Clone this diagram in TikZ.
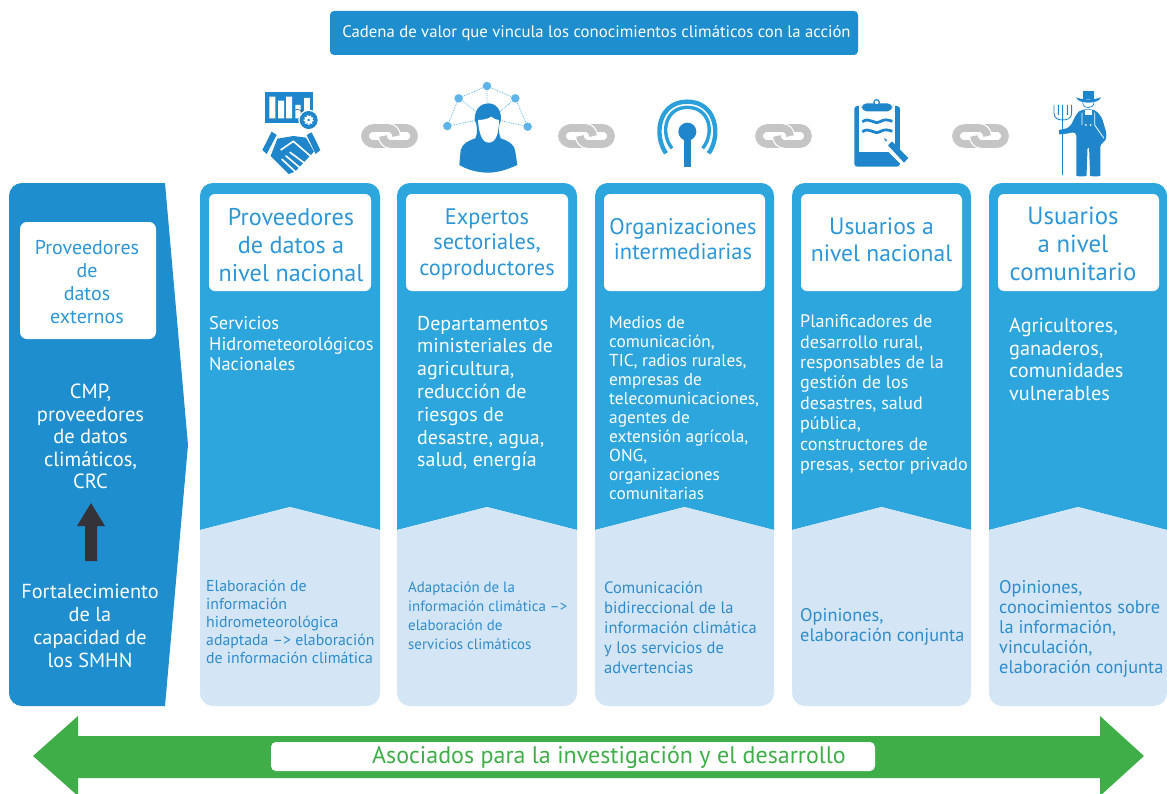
\documentclass[tikz,border=0pt]{standalone}
\usepackage{fontspec}
\setmainfont{PT Sans}
\definecolor{dkblue}{HTML}{1F8ECF}
\definecolor{colblue}{HTML}{2DA5DD}
\definecolor{ltblue}{HTML}{D4E5F6}
\definecolor{ltxt}{HTML}{2E8CCB}
\definecolor{hdtxt}{HTML}{2C96D6}
\definecolor{iconblue}{HTML}{1F86CB}
\definecolor{netblue}{HTML}{5FB3E6}
\definecolor{linkgray}{HTML}{C4C5C4}
\definecolor{dkarrow}{HTML}{333339}
\definecolor{arrgreen}{HTML}{3FAE49}
\newcommand\fz[2]{\fontsize{#1bp}{#2bp}\selectfont}
\newcommand\colpanel[2]{%
  \pgfmathsetmacro\xm{(#1+#2)/2}
  \fill[colblue] (#1,530) [rounded corners=13] -- (#1,183) -- (#2,183) [sharp corners] -- (#2,530) -- (\xm,507) -- cycle;
  \fill[ltblue] (#1,530) -- (\xm,507) -- (#2,530) [rounded corners=13] -- (#2,706) -- (#1,706) [sharp corners] -- cycle;
}
\tikzset{
  x=1bp,y=-1bp,
  whitebox/.style={fill=white,rounded corners=6},
  headtxt/.style={text=hdtxt,align=center,inner sep=0},
  bodytxt/.style={text=white,align=left,inner sep=0,anchor=west},
  sidetxt/.style={text=white,align=center,inner sep=0},
  lowtxt/.style={text=ltxt,align=left,inner sep=0,anchor=west},
  linkstroke/.style={draw=linkgray,line width=7.6bp},
  linkhalo/.style={draw=white,line width=10bp},
  netline/.style={draw=netblue,line width=0.8bp,densely dotted},
  netdot/.style={fill=netblue,circle,inner sep=0,minimum size=8.5bp},
}
\newcommand\chain[1]{%
  \begin{scope}[shift={(#1,136)}]
    \draw[linkstroke] (-3,8) -- (-15.5,8) .. controls (-19.9,8) and (-24,4.4) .. (-24,0) .. controls (-24,-4.4) and (-19.9,-8) .. (-15.5,-8) -- (-1,-8) .. controls (3.4,-8) and (7,-4.4) .. (7,0);
    \draw[linkhalo] (-6,0) .. controls (-6,4.4) and (-2.4,8) .. (2,8);
    \draw[linkstroke] (-6,0) .. controls (-6,4.4) and (-2.4,8) .. (2,8) -- (17,8) .. controls (21.4,8) and (25,4.4) .. (25,0) .. controls (25,-4.4) and (21.4,-8) .. (17,-8) -- (4,-8);
    \draw[linkhalo] (-1,-8) .. controls (3.4,-8) and (7,-4.4) .. (7,0);
    \draw[linkstroke] (-3,-8) -- (-1,-8) .. controls (3.4,-8) and (7,-4.4) .. (7,0);
  \end{scope}
}
\begin{document}
\begin{tikzpicture}
\useasboundingbox (0,0) rectangle (1167,794);
% title
\node[fill=dkblue,rounded corners=4,minimum width=528bp,minimum height=44bp,inner sep=0,text=white,font=\fz{16.7}{20}] (title) at (594,33) {\hspace*{5bp}Cadena de valor que vincula los conocimientos climáticos con la acción};
% left panel
\fill[dkblue] (165,706) [rounded corners=13] -- (9,706) -- (9,183) [sharp corners] -- (165,183) -- (188,445) -- cycle;
\fill[white,rounded corners=7] (20,222) rectangle (156,339);
\node[headtxt,font=\fz{20}{23}] (ext) at (87,282.5) {Proveedores\\de\\datos\\externos};
\node[sidetxt,font=\fz{20.5}{22.6}] (cmp) at (90.5,436.5) {CMP,\\proveedores\\de datos\\climáticos,\\CRC};
\fill[dkarrow] (91,503) -- (105,526) -- (97,526) -- (97,561) -- (85,561) -- (85,526) -- (77,526) -- cycle;
\node[sidetxt,font=\fz{20.3}{23}] (fort) at (90,626) {Fortalecimiento\\de la\\capacidad de\\los SMHN};
% columns
\colpanel{200}{380}
\colpanel{397}{577}
\colpanel{595}{774}
\colpanel{792}{971}
\colpanel{989}{1167}
\fill[whitebox] (209,194) rectangle (371,291);
\fill[whitebox] (406,194) rectangle (568,291);
\fill[whitebox] (604,194) rectangle (765,291);
\fill[whitebox] (801,194) rectangle (962,291);
\fill[whitebox] (998,194) rectangle (1159,291);
\node[headtxt,font=\fz{24.2}{28}] (h1) at (291,245) {Proveedores\\de datos a\\nivel nacional};
\node[headtxt,font=\fz{22.4}{25.5}] (h2) at (487,244) {Expertos\\sectoriales,\\coproductores};
\node[headtxt,font=\fz{22.5}{25.5}] (h3) at (683,239) {Organizaciones\\intermediarias};
\node[headtxt,font=\fz{23.6}{27}] (h4) at (881.5,240) {Usuarios a\\nivel nacional};
\node[headtxt,font=\fz{24.8}{28}] (h5) at (1073,244) {Usuarios\\a nivel\\comunitario};
\node[bodytxt,font=\fz{18.4}{20.5}] (b1) at (209,344) {Servicios\\Hidrometeorológicos\\Nacionales};
\node[bodytxt,font=\fz{20}{22.8}] (b2) at (417,393.5) {Departamentos\\ministeriales de\\agricultura,\\reducción de\\riesgos de\\desastre, agua,\\salud, energía};
\node[bodytxt,font=\fz{17.3}{19.1}] (b3) at (609,408) {Medios de\\comunicación,\\TIC, radios rurales,\\empresas de\\telecomunicaciones,\\agentes de\\extensión agrícola,\\ONG,\\organizaciones\\comunitarias};
\node[bodytxt,font=\fz{18.1}{20.4}] (b4) at (800,394.5) {Planificadores de\\desarrollo rural,\\responsables de la\\gestión de los\\desastres, salud\\pública,\\constructores de\\presas, sector privado};
\node[bodytxt,font=\fz{20.3}{22.4}] (b5) at (1009,359.5) {Agricultores,\\ganaderos,\\comunidades\\vulnerables};
\node[lowtxt,font=\fz{15.8}{17.8}] (l1) at (206,622) {Elaboración de\\información\\hidrometeorológica\\adaptada –> elaboración\\de información climática};
\node[lowtxt,font=\fz{14.9}{19}] (l2) at (408,615.5) {Adaptación de la\\información climática –>\\elaboración de\\servicios climáticos};
\node[lowtxt,font=\fz{16.5}{20}] (l3) at (604,628) {Comunicación\\bidireccional de la\\información climática\\y los servicios de\\advertencias};
\node[lowtxt,font=\fz{18.3}{20}] (l4) at (800,627) {Opiniones,\\elaboración conjunta};
\node[lowtxt,font=\fz{18.3}{20}] (l5) at (999,628.5) {Opiniones,\\conocimientos sobre\\la información,\\vinculación,\\elaboración conjunta};
% green arrow
\fill[arrgreen] (33,756) -- (78,716) -- (78,736) -- (1100,736) -- (1100,716) -- (1144,756) -- (1100,796) -- (1100,778) -- (78,778) -- (78,796) -- cycle;
\fill[white,rounded corners=5] (271,742) rectangle (875,771);
\node[inner sep=0,text=arrgreen,font=\fz{24}{28}] (partners) at (609,757.5) {Asociados para la investigación y el desarrollo};
% chain links
\chain{389}
\chain{586}
\chain{783}
\chain{980}
% icon 1 and icon 2
\begin{scope}[shift={(240,70)},x=0.33333bp,y=-0.33333bp]
  \fill[iconblue] (76,65) rectangle (218,158);
  \fill[white] (88,80) rectangle (106,145) (114,92) rectangle (132,145) (138,80) rectangle (156,145) (166,105) rectangle (182,145) (192,84) rectangle (210,145);
  \draw[dkarrow,line width=0.5bp] (165,120) .. controls (175,116) and (185,120) .. (192,132);
  \fill[white] (206,150) circle (31);
  \fill[iconblue] (206,150) circle (27);
  \draw[white,line width=2.5bp] (206,150) circle (8);
  \draw[white,line width=1.5bp,dash pattern=on 1.5bp off 1.5bp] (206,150) circle (13);
  \fill[iconblue] (95,185) -- (110,195) -- (80,252) -- (67,240) -- cycle;
  \fill[iconblue] (200,195) -- (215,187) -- (241,240) -- (227,252) -- cycle;
  \fill[iconblue] (112,206) -- (160,198) -- (198,203) -- (222,245) -- (165,305) -- (146,312) -- (92,258) -- cycle;
  \draw[white,line width=1.6bp] (122,240) -- (160,214) -- (216,262);
  \draw[white,line width=1.6bp,line cap=round] (150,247) -- (197,282) (138,258) -- (182,295) (126,268) -- (166,305);
  \draw[netline] (622,168) -- (656,85) -- (741,48) -- (826,85) -- (863,170) (741,48) -- (741,100) (656,85) -- (710,125) (826,85) -- (780,125) (622,168) -- (705,152) (863,170) -- (782,152);
  \foreach \nx/\ny/\nn in {741/48/n1,656/85/n2,826/85/n3,622/168/n4,863/170/n5}
    \node[netdot] (\nn) at (\nx,\ny) {};
  \fill[iconblue] (704,148) .. controls (704,115) and (725,100) .. (745,100) .. controls (768,100) and (785,120) .. (783,150) .. controls (775,165) and (775,190) .. (782,205) .. controls (810,215) and (824,225) .. (826,245) -- (832,285) .. controls (800,300) and (770,308) .. (745,308) .. controls (710,308) and (680,298) .. (658,285) -- (662,240) .. controls (668,220) and (685,212) .. (706,205) .. controls (714,190) and (712,165) .. (704,148) -- cycle;
  \fill[white] (714,150) .. controls (730,150) and (745,146) .. (754,140) .. controls (760,146) and (768,150) .. (777,150) .. controls (777,185) and (770,218) .. (746,218) .. controls (725,218) and (716,185) .. (714,150) -- cycle;
\end{scope}
% icons 3-5
\begin{scope}[shift={(640,70)},x=0.33333bp,y=-0.33333bp]
  % antenna
  \draw[colblue!80!iconblue,line width=4.4bp] (78,250) .. controls (40,195) and (55,95) .. (142,95) .. controls (228,95) and (245,195) .. (206,250);
  \draw[colblue!80!iconblue,line width=3.4bp] (96,235) .. controls (60,190) and (75,112) .. (142,112) .. controls (210,112) and (225,190) .. (188,235);
  \fill[iconblue] (142,185) circle (27);
  \fill[iconblue] (132,190) rectangle (152,290);
  % clipboard
  \fill[iconblue,rounded corners=3] (643,108) rectangle (780,290);
  \fill[white] (657,108) -- (766,108) -- (766,245) -- (657,245) -- cycle;
  \fill[iconblue,rounded corners=5] (665,100) rectangle (757,124);
  \draw[iconblue,line width=1.2bp,fill=white] (710,97) circle (8);
  \draw[iconblue,line width=2.8bp] (667,155) .. controls (690,140) and (700,165) .. (720,155) .. controls (735,146) and (745,150) .. (757,154);
  \draw[iconblue,line width=2.8bp] (667,185) .. controls (690,170) and (700,195) .. (720,185) .. controls (735,176) and (745,180) .. (757,184);
  \fill[white] (730,200) -- (816,275) -- (790,290) -- (725,225) -- cycle;
  \fill[iconblue] (744,226) -- (756,214) -- (805,264) -- (792,278) -- cycle;
  \fill[iconblue] (731,204) -- (742,210) -- (738,215) -- cycle;
  % farmer
  \draw[iconblue,line width=0.9bp] (1268,150) -- (1268,315);
  \draw[iconblue,line width=0.9bp] (1242,105) -- (1242,130) .. controls (1242,145) and (1255,150) .. (1268,150) .. controls (1281,150) and (1295,145) .. (1295,130) -- (1295,105) (1255,105) -- (1255,135) (1268,105) -- (1268,150) (1282,105) -- (1282,135);
  \fill[iconblue] (1330,62) rectangle (1362,88);
  \fill[iconblue] (1308,82) .. controls (1325,90) and (1365,90) .. (1383,82) .. controls (1380,92) and (1365,98) .. (1345,98) .. controls (1325,98) and (1312,92) .. (1308,82) -- cycle;
  \draw[iconblue,line width=0.7bp] (1328,98) .. controls (1330,118) and (1360,118) .. (1362,98);
  \fill[iconblue,rounded corners=4] (1325,118) -- (1364,118) -- (1385,140) -- (1401,195) -- (1395,218) -- (1381,218) -- (1381,305) .. controls (1381,320) and (1350,320) .. (1350,305) -- (1347,225) -- (1343,225) -- (1340,305) .. controls (1340,320) and (1309,320) .. (1309,305) -- (1309,185) -- (1270,193) .. controls (1258,193) and (1255,180) .. (1270,178) -- (1290,172) -- (1310,130) -- cycle;
  \fill[white] (1336,120) rectangle (1355,136);
  \draw[white,line width=0.8bp] (1326,128) -- (1326,165) (1364,128) -- (1364,165) -- (1392,205);
  \fill[white] (1338,165) circle (3) (1352,165) circle (3);
\end{scope}
\end{tikzpicture}
\end{document}
